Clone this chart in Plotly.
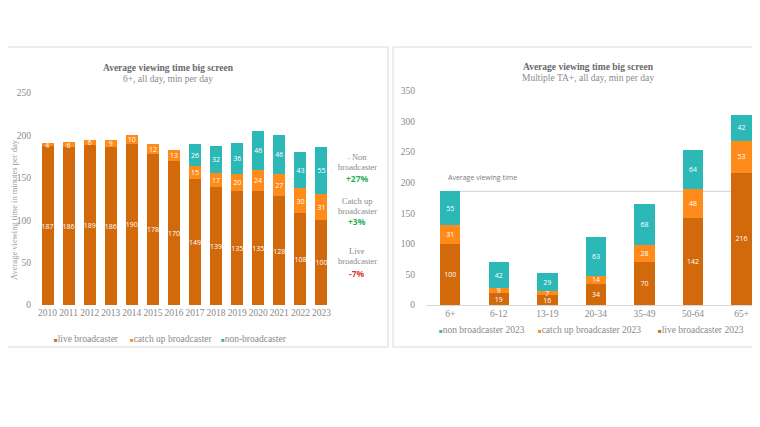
import plotly.graph_objects as go

# page shows the figure offset by the default 8px body margin
OFF = 8
W, H = 760 - OFF, 427 - OFF

# ---- data: left chart (years) ----
years = ["2010", "2011", "2012", "2013", "2014", "2015", "2016",
         "2017", "2018", "2019", "2020", "2021", "2022", "2023"]
live_years = [187, 186, 189, 186, 190, 178, 170, 149, 139, 135, 135, 128, 108, 100]
catchup_years = [4, 6, 6, 9, 10, 12, 13, 15, 17, 20, 24, 27, 30, 31]
non_years = [None, None, None, None, None, None, None, 26, 32, 36, 46, 46, 43, 55]

# ---- data: right chart (target audiences) ----
groups = ["6+", "6-12", "13-19", "20-34", "35-49", "50-64", "65+"]
live_2023 = [100, 19, 16, 34, 70, 142, 216]
catchup_2023 = [31, 9, 7, 14, 28, 48, 53]
non_2023 = [55, 42, 29, 63, 68, 64, 42]
avg_viewing = 186

C_LIVE = "#D2690A"
C_CATCH = "#FF8C1A"
C_NON = "#2DB8B8"
SERIF = "Liberation Serif, DejaVu Serif, serif"
SANS = "Open Sans, Liberation Sans, sans-serif"

def px(x):
    return (x - OFF) / W

def py(y):
    return 1 - (y - OFF) / H

fig = go.Figure()

def lbl(vals):
    return [("" if v is None else str(v)) for v in vals]

# left chart traces
fig.add_trace(go.Bar(x=years, y=live_years, name="live broadcaster", marker_color=C_LIVE,
                     text=lbl(live_years), xaxis="x", yaxis="y"))
fig.add_trace(go.Bar(x=years, y=catchup_years, name="catch up broadcaster", marker_color=C_CATCH,
                     text=lbl(catchup_years), xaxis="x", yaxis="y"))
fig.add_trace(go.Bar(x=years, y=non_years, name="non-broadcaster", marker_color=C_NON,
                     text=lbl(non_years), xaxis="x", yaxis="y"))

# right chart traces
fig.add_trace(go.Bar(x=groups, y=live_2023, name="live broadcaster 2023", marker_color=C_LIVE,
                     text=lbl(live_2023), xaxis="x2", yaxis="y2", width=0.42))
fig.add_trace(go.Bar(x=groups, y=catchup_2023, name="catch up broadcaster 2023", marker_color=C_CATCH,
                     text=lbl(catchup_2023), xaxis="x2", yaxis="y2", width=0.42))
fig.add_trace(go.Bar(x=groups, y=non_2023, name="non broadcaster 2023", marker_color=C_NON,
                     text=lbl(non_2023), xaxis="x2", yaxis="y2", width=0.42))

fig.update_traces(textposition="inside", insidetextanchor="middle", textangle=0,
                  textfont=dict(color="white", size=7.5, family=SANS),
                  marker_line_width=0, constraintext="none",
                  hoverinfo="x+y+name", showlegend=False)
for tr in fig.data[3:]:
    tr.textfont.size = 7

tickfont = dict(family=SERIF, size=9.5, color="#8a8a8a")

fig.update_layout(
    template="none",
    width=W, height=H,
    margin=dict(l=0, r=0, t=0, b=0, autoexpand=False),
    paper_bgcolor="white", plot_bgcolor="white",
    barmode="stack",
    bargap=0.43,
    uniformtext=dict(minsize=7, mode="show"),
    showlegend=False,
    xaxis=dict(domain=[px(37), px(332)], type="category", showgrid=False, showline=False,
               ticks="", tickfont=tickfont, tickangle=0, automargin=False, anchor="y",
               zeroline=False),
    yaxis=dict(domain=[py(305), py(93)], range=[0, 250], dtick=50, showgrid=False,
               zeroline=False, showline=False, tickfont=tickfont, ticks="",
               ticklabelstandoff=5, anchor="x", automargin=False),
    xaxis2=dict(domain=[px(426), 1.0], type="category", range=[-0.5, 6.38], showgrid=False,
                showline=True, linecolor="#d9d9d9", linewidth=1, ticks="", tickangle=0,
                tickfont=tickfont, anchor="y2", automargin=False, zeroline=False),
    yaxis2=dict(domain=[py(305), py(91)], range=[0, 350], dtick=50, showgrid=False,
                zeroline=False, showline=False, tickfont=tickfont, ticks="",
                ticklabelstandoff=10, anchor="x2", automargin=False),
)

shapes = [
    dict(type="rect", xref="paper", yref="paper", x0=px(0), x1=px(388), y0=py(347), y1=py(47),
         line=dict(color="#d9d9d9", width=1), fillcolor="rgba(0,0,0,0)", layer="below"),
    dict(type="rect", xref="paper", yref="paper", x0=px(393), x1=px(765), y0=py(347), y1=py(47),
         line=dict(color="#d9d9d9", width=1), fillcolor="rgba(0,0,0,0)", layer="below"),
    dict(type="line", xref="x2", yref="y2", x0=0, x1=6, y0=avg_viewing, y1=avg_viewing,
         line=dict(color="#d0d0d0", width=1), layer="below"),
]
fig.update_layout(shapes=shapes)

ann = []
def A(x, y, text, size=9.5, color="#595959", family=SERIF, xanchor="center", **kw):
    ann.append(dict(xref="paper", yref="paper", x=px(x), y=py(y), text=text, showarrow=False,
                    font=dict(size=size, color=color, family=family), xanchor=xanchor,
                    yanchor="middle", **kw))

A(168, 68, "<b>Average viewing time big screen</b>", size=9.5, color="#6a6a6a")
A(168, 79, "6+, all day, min per day", size=9.5, color="#8a8a8a")
A(588, 67, "<b>Average viewing time big screen</b>", size=9.5, color="#6a6a6a")
A(588, 78, "Multiple TA+, all day, min per day", size=9.5, color="#8a8a8a")

# y-axis title (left chart)
ann.append(dict(xref="paper", yref="paper", x=px(14), y=py(210),
                text="Average viewing time in minutes per day", showarrow=False, textangle=-90,
                font=dict(size=8.5, color="#9a9a9a", family=SERIF),
                xanchor="center", yanchor="middle"))

A(357, 157, "<span style='font-size:5px'>•</span> Non", size=8.5, color="#8a8a8a")
A(357, 167, "broadcaster", size=8.5, color="#8a8a8a")
A(357, 178, "<b>+27%</b>", size=8.5, color="#2EAF5A", family=SANS)
A(357, 201, "Catch up", size=8.5, color="#8a8a8a")
A(357, 211, "broadcaster", size=8.5, color="#8a8a8a")
A(357, 222, "<b>+3%</b>", size=8.5, color="#2EAF5A", family=SANS)
A(357, 251, "Live", size=8.5, color="#8a8a8a")
A(357, 261, "broadcaster", size=8.5, color="#8a8a8a")
A(357, 273, "<b>-7%</b>", size=8.5, color="#D93A3A", family=SANS)

A(446, 177, "Average viewing time", size=7, color="#7a7a7a", family=SANS, xanchor="left")

# legends (left and right), drawn as text with coloured squares
def legend_entries(y, entries):
    for name, color, x in entries:
        A(x, y, f"<span style='color:{color};font-size:6px'>■</span>{name}", size=9.5,
          color="#8a8a8a", xanchor="left")

legend_entries(339, [("live broadcaster", C_LIVE, 52),
                     ("catch up broadcaster", C_CATCH, 128),
                     ("non-broadcaster", C_NON, 219)])
legend_entries(330, [("non broadcaster 2023", C_NON, 437),
                     ("catch up broadcaster 2023", C_CATCH, 536),
                     ("live broadcaster 2023", C_LIVE, 656)])

fig.update_layout(annotations=ann)

fig.write_html("out.html")
